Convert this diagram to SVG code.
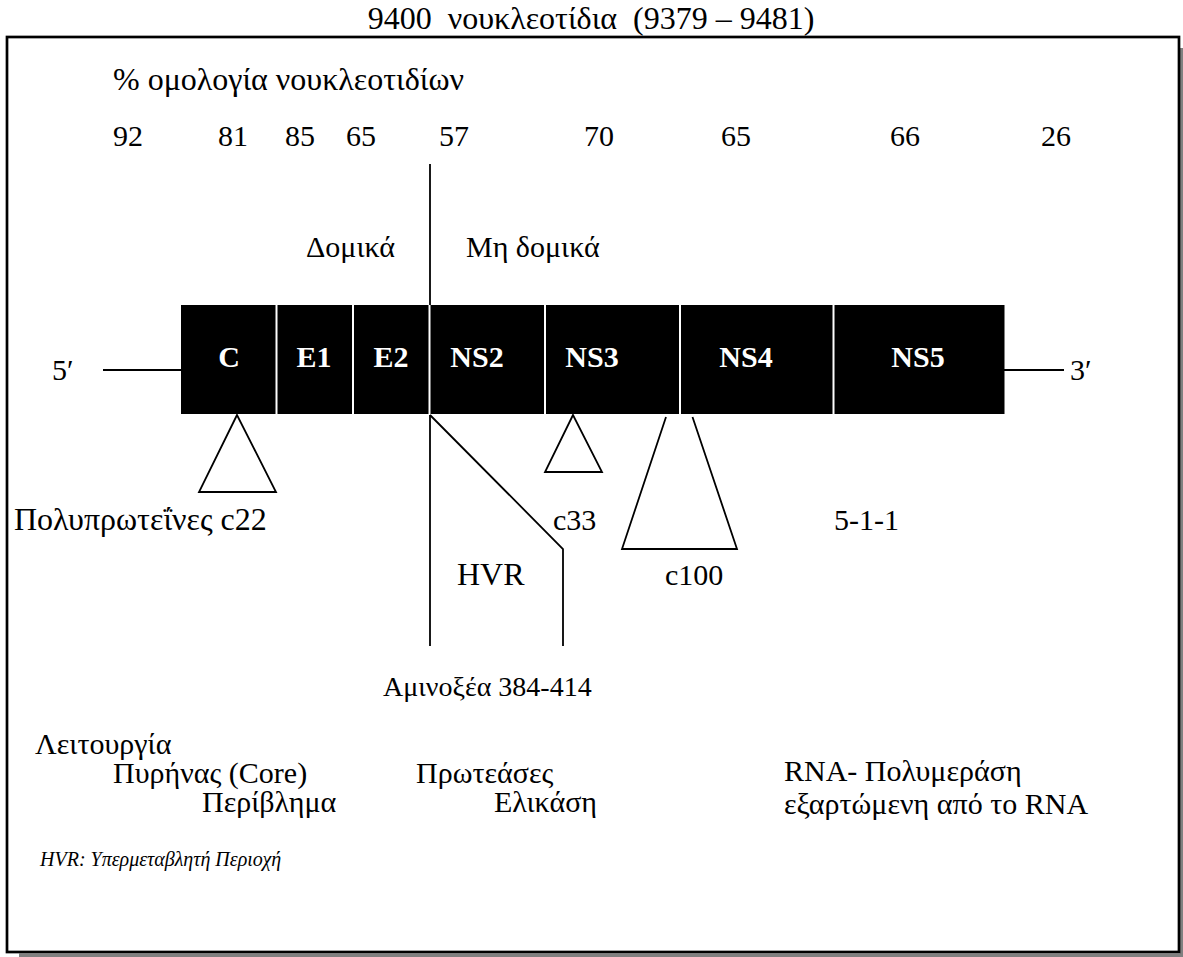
<svg xmlns="http://www.w3.org/2000/svg" width="1183" height="957" viewBox="0 0 1183 957">
<style>
text{font-family:"Liberation Serif","DejaVu Serif",serif;font-size:30px;fill:#000}
.big{font-size:32px}
.sm{font-size:28px}
.lbl{font-weight:bold;fill:#fff;text-anchor:middle}
.it{font-style:italic;font-size:20px}
.ln{fill:none;stroke:#000;stroke-width:1.8}
.blk{fill:#000}
</style>
<rect width="1183" height="957" fill="#fff"/>
<g id="frame">
<rect x="1180" y="48" width="3" height="909" fill="#808080"/>
<rect x="19" y="953.5" width="1164" height="3.5" fill="#808080"/>
<rect x="7" y="37" width="1172" height="915" fill="none" stroke="#000" stroke-width="2.7"/>
</g>
<g id="title"><text class="big" x="591" y="29" text-anchor="middle" xml:space="preserve">9400  νουκλεοτίδια  (9379 – 9481)</text></g>
<g id="homology">
<text class="big" x="113" y="90">% ομολογία νουκλεοτιδίων</text>
<text x="113" y="146">92</text>
<text x="218" y="146">81</text>
<text x="285" y="146">85</text>
<text x="346" y="146">65</text>
<text x="439" y="146">57</text>
<text x="584" y="146">70</text>
<text x="721" y="146">65</text>
<text x="890" y="146">66</text>
<text x="1041" y="146">26</text>
</g>
<g id="regions">
<text x="306" y="257">Δομικά</text>
<text x="466" y="257">Μη δομικά</text>
</g>
<g id="genome">
<rect class="blk" x="181" y="305" width="94.5" height="109"/>
<rect class="blk" x="277.5" y="305" width="74.5" height="109"/>
<rect class="blk" x="354" y="305" width="74.5" height="109"/>
<rect class="blk" x="430.5" y="305" width="113.5" height="109"/>
<rect class="blk" x="546" y="305" width="133" height="109"/>
<rect class="blk" x="681" y="305" width="151.5" height="109"/>
<rect class="blk" x="834.5" y="305" width="170" height="109"/>
<text class="lbl" x="229" y="367">C</text>
<text class="lbl" x="314" y="367">E1</text>
<text class="lbl" x="391" y="367">E2</text>
<text class="lbl" x="477" y="367">NS2</text>
<text class="lbl" x="592" y="367">NS3</text>
<text class="lbl" x="746" y="367">NS4</text>
<text class="lbl" x="918" y="367">NS5</text>
<text x="52" y="380">5′</text>
<text x="1070" y="380">3′</text>
</g>
<g id="connectors">
<line class="ln" x1="103" y1="370" x2="181" y2="370"/>
<line class="ln" x1="1004" y1="370" x2="1064" y2="370"/>
<line class="ln" x1="430" y1="164" x2="430" y2="305"/>
<polyline class="ln" points="430,415 430,646"/>
<polyline class="ln" points="430,415 563,549 563,646"/>
<polygon class="ln" points="237,415 199,492 276,492"/>
<polygon class="ln" points="573,415 545,472 602,472"/>
<polyline class="ln" points="666,417 622,549 737,549 692.5,417"/>
</g>
<g id="epitopes">
<text class="big" x="14" y="530">Πολυπρωτεΐνες c22</text>
<text x="553" y="530">c33</text>
<text x="834" y="530">5-1-1</text>
<text class="big" x="457" y="585">HVR</text>
<text x="665" y="585">c100</text>
<text class="sm" x="383" y="696">Αμινοξέα 384-414</text>
</g>
<g id="function">
<text x="35" y="754">Λειτουργία</text>
<text x="113" y="783">Πυρήνας (Core)</text>
<text x="416" y="783">Πρωτεάσες</text>
<text x="784" y="781">RNA- Πολυμεράση</text>
<text x="202" y="812">Περίβλημα</text>
<text x="494" y="812">Ελικάση</text>
<text x="784" y="814">εξαρτώμενη από το RNA</text>
</g>
<g id="legend"><text class="it" x="40" y="866">HVR: Υπερμεταβλητή Περιοχή</text></g>
</svg>
